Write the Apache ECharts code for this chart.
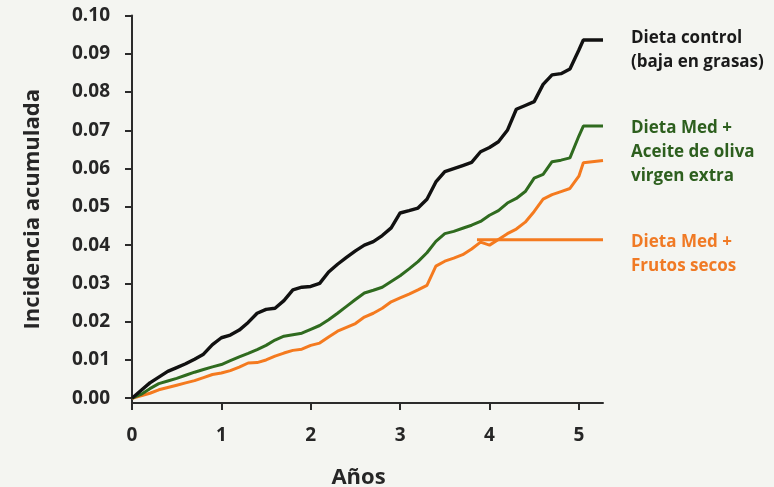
<!DOCTYPE html>
<html>
<head>
<meta charset="utf-8">
<script src="https://cdn.jsdelivr.net/npm/echarts@6/dist/echarts.min.js"></script>
<style>
html,body{margin:0;padding:0;background:#f4f5f1;}
#c{width:774px;height:487px;}
</style>
</head>
<body>
<div id="c"></div>
<script>
// Años de seguimiento
const years = [0,0.1,0.2,0.3,0.4,0.5,0.6,0.7,0.8,0.9,1.0,1.1,1.2,1.3,1.4,1.5,1.6,1.7,1.8,1.9,2.0,2.1,2.2,2.3,2.4,2.5,2.6,2.7,2.8,2.9,3.0,3.1,3.2,3.3,3.4,3.5,3.6,3.7,3.8,3.9,4.0,4.1,4.2,4.3,4.4,4.5,4.6,4.7,4.8,4.9,5.0,5.05,5.27];
// Dieta control (baja en grasas)
const control = [0,0.002,0.004,0.0055,0.007,0.008,0.009,0.0102,0.0115,0.014,0.0158,0.0165,0.0178,0.0198,0.0222,0.0232,0.0235,0.0255,0.0283,0.029,0.0292,0.030,0.033,0.035,0.0368,0.0385,0.040,0.0409,0.0425,0.0445,0.0484,0.049,0.0497,0.052,0.0565,0.0592,0.060,0.0608,0.0616,0.0644,0.0655,0.067,0.070,0.0755,0.0765,0.0775,0.082,0.0845,0.0848,0.086,0.091,0.0936,0.0936];
// Dieta Med + Aceite de oliva virgen extra
const aove = [0,0.001,0.0025,0.0038,0.0045,0.0052,0.006,0.0068,0.0075,0.0082,0.0088,0.0098,0.0108,0.0117,0.0127,0.0138,0.0152,0.0162,0.0166,0.017,0.018,0.019,0.0205,0.0222,0.024,0.0258,0.0275,0.0282,0.029,0.0305,0.032,0.0338,0.0357,0.038,0.041,0.043,0.0436,0.0444,0.0452,0.0462,0.0478,0.049,0.051,0.0522,0.054,0.0575,0.0585,0.0618,0.0622,0.0628,0.0685,0.0711,0.0711];
// Dieta Med + Frutos secos
const frutos = [0,0.0006,0.0013,0.0022,0.0028,0.0034,0.004,0.0046,0.0054,0.0062,0.0066,0.0072,0.0081,0.0092,0.0093,0.010,0.011,0.0118,0.0125,0.0128,0.0138,0.0144,0.016,0.0175,0.0185,0.0195,0.0212,0.0222,0.0235,0.0252,0.0262,0.0272,0.0283,0.0295,0.0345,0.0358,0.0366,0.0375,0.039,0.0408,0.040,0.0415,0.043,0.0442,0.046,0.0488,0.052,0.0532,0.054,0.0548,0.058,0.0615,0.0621];
// Tramo horizontal naranja
const frutosFlatX = [3.86, 5.27];
const frutosFlatY = [0.0414, 0.0414];

const yTicks = [0,0.01,0.02,0.03,0.04,0.05,0.06,0.07,0.08,0.09,0.10];
const xTicks = [0,1,2,3,4,5];

const zip = (xs, ys) => xs.map((x,i)=>[x, ys[i]]);
const FONT = '"Open Sans", sans-serif';
const TXT = '#262626';

const chart = echarts.init(document.getElementById('c'), null, {renderer:'canvas'});
chart.setOption({
  backgroundColor:'#f4f5f1',
  animation:false,
  grid:{left:132, right:171, top:15.5, bottom:84, containLabel:false, outerBoundsMode:'none'},
  xAxis:{
    type:'value', min:0, max:5.27,
    axisLine:{show:true, onZero:false, lineStyle:{color:'#2b2b2b', width:2}},
    axisTick:{show:true, length:7, lineStyle:{color:'#2b2b2b', width:2}, customValues:xTicks},
    axisLabel:{fontFamily:FONT, fontSize:19, fontWeight:'bold', color:TXT, margin:23, customValues:xTicks},
    splitLine:{show:false},
    name:'Años', nameLocation:'middle', nameGap:64,
    nameTextStyle:{fontFamily:FONT, fontSize:22, fontWeight:'bold', color:TXT, padding:[0,18,0,0]}
  },
  yAxis:{
    type:'value', min:-0.00125, max:0.1,
    axisLine:{show:true, onZero:false, lineStyle:{color:'#2b2b2b', width:2}},
    axisTick:{show:true, length:7, lineStyle:{color:'#2b2b2b', width:2}, customValues:yTicks},
    axisLabel:{fontFamily:FONT, fontSize:19, fontWeight:'bold', color:TXT, margin:22,
      customValues:yTicks, formatter:v=>v.toFixed(2)},
    splitLine:{show:false},
    name:'Incidencia acumulada', nameLocation:'middle', nameGap:88, nameRotate:90,
    nameTextStyle:{fontFamily:FONT, fontSize:22, fontWeight:'bold', color:TXT}
  },
  series:[
    {name:'Dieta control', type:'line', data:zip(years, control), showSymbol:false,
     lineStyle:{color:'#111111', width:3.4}, z:3},
    {name:'Dieta Med + AOVE', type:'line', data:zip(years, aove), showSymbol:false,
     lineStyle:{color:'#2f6b1f', width:3}, z:2},
    {name:'Dieta Med + Frutos secos', type:'line', data:zip(years, frutos), showSymbol:false,
     lineStyle:{color:'#f47a1f', width:3}, z:1},
    {name:'Frutos secos (tramo)', type:'line', data:zip(frutosFlatX, frutosFlatY), showSymbol:false,
     lineStyle:{color:'#f47a1f', width:2.8}, z:1}
  ],
  graphic:[
    {type:'text', left:631, top:26, style:{text:'Dieta control\n(baja en grasas)', fill:'#1a1a1a', font:'bold 17px "Open Sans", sans-serif', lineHeight:24}},
    {type:'text', left:631, top:116, style:{text:'Dieta Med +\nAceite de oliva\nvirgen extra', fill:'#2d5f1e', font:'bold 17px "Open Sans", sans-serif', lineHeight:24}},
    {type:'text', left:631, top:230, style:{text:'Dieta Med +\nFrutos secos', fill:'#f07a25', font:'bold 17px "Open Sans", sans-serif', lineHeight:24}}
  ]
});
</script>
</body>
</html>
